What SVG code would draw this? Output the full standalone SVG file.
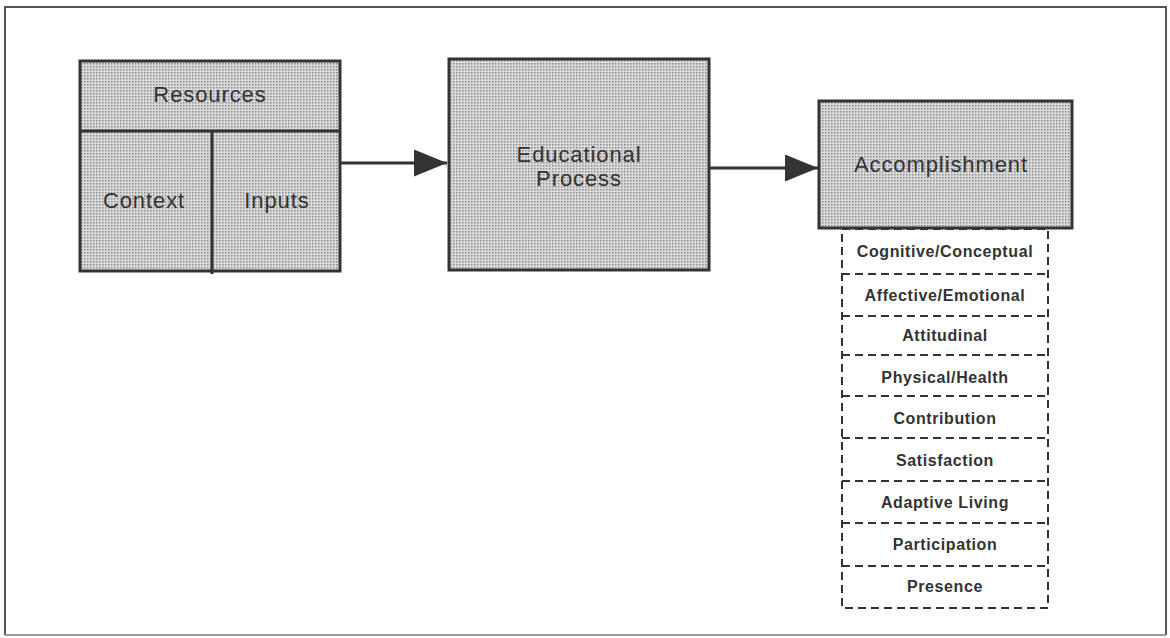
<svg xmlns="http://www.w3.org/2000/svg" width="1170" height="638" viewBox="0 0 1170 638">
<defs>
<pattern id="stip" width="3" height="3" patternUnits="userSpaceOnUse">
<rect width="3" height="3" fill="#dadada"/>
<rect width="1.5" height="1.5" fill="#8c8c8c"/>
</pattern>
<marker id="arr" markerWidth="11" markerHeight="9" refX="11" refY="4.5" orient="auto" markerUnits="strokeWidth">
<path d="M0,0 L11,4.5 L0,9 Z" fill="#333"/>
</marker>
<style>
.box{fill:url(#stip);stroke:#333;stroke-width:3}
.ln{stroke:#333;stroke-width:3;fill:none}
.big{font-family:"Liberation Sans",Arial,sans-serif;font-size:22px;letter-spacing:0.9px;fill:#333;text-anchor:middle}
.sm{font-family:"Liberation Sans",Arial,sans-serif;font-size:16px;font-weight:bold;letter-spacing:0.6px;fill:#333;text-anchor:middle}
.dash{stroke:#333;stroke-width:2;stroke-dasharray:8 5;fill:none}
</style>
</defs>
<rect x="0" y="0" width="1170" height="638" fill="#fff"/>
<path d="M5,635 L5,7 L1166,7 L1166,635" fill="none" stroke="#555" stroke-width="2"/>
<line x1="5" y1="635" x2="1166" y2="635" stroke="#999" stroke-width="2"/>

<g id="resources">
<rect class="box" x="80" y="61" width="260" height="210"/>
<line class="ln" x1="80" y1="131" x2="340" y2="131"/>
<line class="ln" x1="212" y1="131" x2="212" y2="274"/>
<text class="big" x="210" y="102">Resources</text>
<text class="big" x="144" y="208">Context</text>
<text class="big" x="277" y="208">Inputs</text>
</g>

<g id="educational-process">
<rect class="box" x="449" y="59" width="260" height="211"/>
<text class="big" x="579" y="162">Educational</text>
<text class="big" x="579" y="186">Process</text>
</g>

<g id="accomplishment">
<rect class="box" x="819" y="101" width="253" height="127"/>
<text class="big" x="941" y="172">Accomplishment</text>
</g>

<g id="accomplishment-list">
<rect class="dash" x="842" y="229" width="206" height="379"/>
<line class="dash" x1="842" y1="274" x2="1048" y2="274"/>
<line class="dash" x1="842" y1="316" x2="1048" y2="316"/>
<line class="dash" x1="842" y1="355" x2="1048" y2="355"/>
<line class="dash" x1="842" y1="396" x2="1048" y2="396"/>
<line class="dash" x1="842" y1="438" x2="1048" y2="438"/>
<line class="dash" x1="842" y1="481" x2="1048" y2="481"/>
<line class="dash" x1="842" y1="523" x2="1048" y2="523"/>
<line class="dash" x1="842" y1="566" x2="1048" y2="566"/>
<text class="sm" x="945" y="257">Cognitive/Conceptual</text>
<text class="sm" x="945" y="301">Affective/Emotional</text>
<text class="sm" x="945" y="341">Attitudinal</text>
<text class="sm" x="945" y="383">Physical/Health</text>
<text class="sm" x="945" y="424">Contribution</text>
<text class="sm" x="945" y="466">Satisfaction</text>
<text class="sm" x="945" y="508">Adaptive Living</text>
<text class="sm" x="945" y="550">Participation</text>
<text class="sm" x="945" y="592">Presence</text>
</g>

<g id="connectors">
<line class="ln" x1="340" y1="163" x2="447" y2="163" marker-end="url(#arr)"/>
<line class="ln" x1="709" y1="168" x2="818" y2="168" marker-end="url(#arr)"/>
</g>
</svg>
